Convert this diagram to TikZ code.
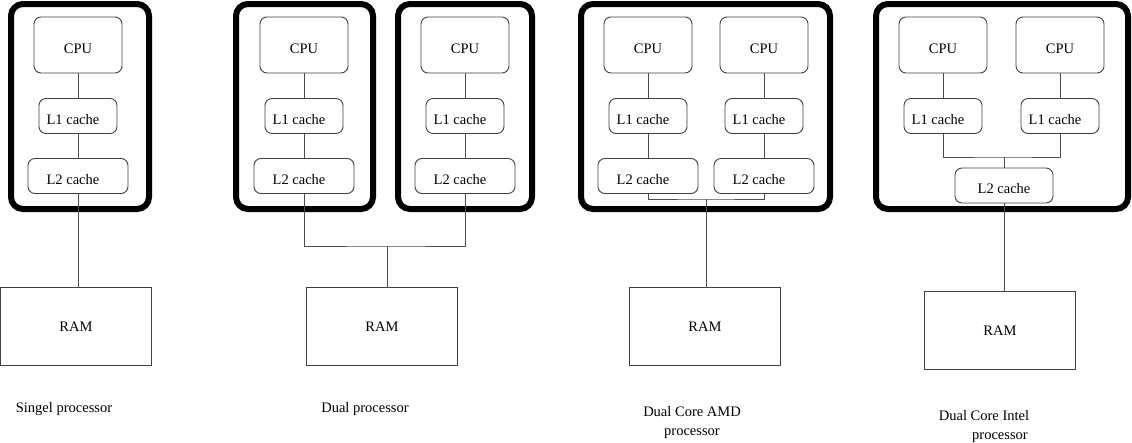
\documentclass[tikz,border=0pt]{standalone}
\usepackage{fontspec}
\setmainfont{Liberation Serif}
\usepackage{tikz}

\begin{document}
\begin{tikzpicture}[x=1pt,y=-1pt,every node/.style={font=\fontsize{14.5}{19}\selectfont,inner sep=0pt,outer sep=0pt},
  chip/.style={draw=black,line width=6pt,rounded corners=12pt,minimum height=205pt},
  unit/.style={draw=black!75,line width=0.9pt,rounded corners=7pt,text height=16pt,text depth=0pt},
  cpu/.style={unit,minimum width=88pt,minimum height=56pt},
  cachetext/.style={execute at end node={\hspace*{10pt}}},
  lone/.style={unit,cachetext,minimum width=78pt,minimum height=35pt},
  ltwo/.style={unit,cachetext,minimum width=100pt,minimum height=35pt},
  ram/.style={draw=black!75,line width=1.1pt,minimum width=151pt,minimum height=78pt},
  link/.style={draw=black!70,line width=0.9pt}]

\useasboundingbox (0,0) rectangle (1132,442);

\pgfmathsetmacro{\YCPU}{45}
\pgfmathsetmacro{\YLONE}{116}
\pgfmathsetmacro{\YLTWO}{176}
\pgfmathsetmacro{\YRAM}{326.5}

% processor packages
\node[chip,minimum width=138pt] (chipA) at (80,106.5) {};
\node[chip,minimum width=137pt] (chipB) at (304.5,106.5) {};
\node[chip,minimum width=134pt] (chipC) at (465,106.5) {};
\node[chip,minimum width=249pt] (chipD) at (705.5,106.5) {};
\node[chip,minimum width=252pt] (chipF) at (1002,106.5) {};

% single processor
\node[cpu] (cpuA) at (78,\YCPU) {CPU};
\node[lone] (loneA) at (78,\YLONE) {L1 cache};
\node[ltwo] (ltwoA) at (78,\YLTWO) {L2 cache};
\node[ram] (ramA) at (76,\YRAM) {RAM};
\draw[link] (cpuA.south) -- (loneA.north);
\draw[link] (loneA.south) -- (ltwoA.north);
\draw[link] (ltwoA.south) -- (ltwoA.south |- ramA.north);

% dual processor
\node[cpu] (cpuB) at (304,\YCPU) {CPU};
\node[lone] (loneB) at (304,\YLONE) {L1 cache};
\node[ltwo] (ltwoB) at (304,\YLTWO) {L2 cache};
\node[cpu] (cpuC) at (465,\YCPU) {CPU};
\node[lone] (loneC) at (465,\YLONE) {L1 cache};
\node[ltwo] (ltwoC) at (465,\YLTWO) {L2 cache};
\node[ram] (ramB) at (382,\YRAM) {RAM};
\coordinate (jB) at (387,246);
\draw[link] (cpuB.south) -- (loneB.north) (loneB.south) -- (ltwoB.north);
\draw[link] (cpuC.south) -- (loneC.north) (loneC.south) -- (ltwoC.north);
\draw[link] (ltwoB.south) |- (jB) -| (ltwoC.south);
\draw[link] (jB) -- (jB |- ramB.north);

% dual core AMD
\node[cpu] (cpuD) at (648,\YCPU) {CPU};
\node[lone] (loneD) at (648,\YLONE) {L1 cache};
\node[ltwo] (ltwoD) at (648,\YLTWO) {L2 cache};
\node[cpu] (cpuE) at (764,\YCPU) {CPU};
\node[lone] (loneE) at (764,\YLONE) {L1 cache};
\node[ltwo] (ltwoE) at (764,\YLTWO) {L2 cache};
\node[ram] (ramD) at (705,\YRAM) {RAM};
\coordinate (jD) at (706,199);
\draw[link] (cpuD.south) -- (loneD.north) (loneD.south) -- (ltwoD.north);
\draw[link] (cpuE.south) -- (loneE.north) (loneE.south) -- (ltwoE.north);
\draw[link] (ltwoD.south) |- (jD) -| (ltwoE.south);
\draw[link] (jD) -- (jD |- ramD.north);

% dual core Intel, shared L2
\node[cpu] (cpuF) at (943,\YCPU) {CPU};
\node[lone] (loneF) at (943,\YLONE) {L1 cache};
\node[cpu] (cpuG) at (1060,\YCPU) {CPU};
\node[lone] (loneG) at (1060,\YLONE) {L1 cache};
\node[unit,minimum width=98pt,minimum height=35pt] (ltwoF) at (1004,185.5) {L2 cache};
\node[ram] (ramF) at (1000,330.5) {RAM};
\coordinate (jF) at (1004,157);
\draw[link] (cpuF.south) -- (loneF.north);
\draw[link] (cpuG.south) -- (loneG.north);
\draw[link] (loneF.south) |- (jF) -| (loneG.south);
\draw[link] (jF) -- (ltwoF.north);
\draw[link] (ltwoF.south) -- (ltwoF.south |- ramF.north);

% captions
\node (labA) at (64,409) {Singel processor};
\node (labB) at (365,409) {Dual processor};
\node[align=center] (labD) at (692,423) {Dual Core AMD\\processor};
\node[align=center] (labF) at (984,427) {Dual Core Intel\\\hspace*{32pt}processor};
\end{tikzpicture}
\end{document}
